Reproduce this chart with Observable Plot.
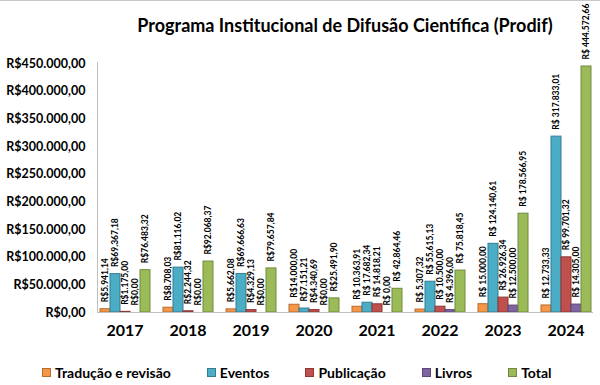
<!DOCTYPE html>
<html>
<head>
<meta charset="utf-8">
<script src="https://cdn.jsdelivr.net/npm/d3@7"></script>
<script src="https://cdn.jsdelivr.net/npm/@observablehq/plot@0.6"></script>
<style>
  html, body { margin: 0; padding: 0; background: #fff; }
  #wrap { position: relative; width: 600px; height: 385px; overflow: hidden; font-family: Lato, "Open Sans", sans-serif; color: #000; }
  #topline { position: absolute; left: 0; top: 0; width: 600px; height: 1px; background: #c8c8c8; }
  #title { position: absolute; top: 14px; left: 97px; width: 496px; text-align: center; font-weight: bold; font-size: 18px; white-space: nowrap; }
  #legend { position: absolute; top: 364px; left: 42px; display: flex; gap: 36px; font-weight: bold; font-size: 14px; white-space: nowrap; }
  #legend .item { display: flex; align-items: center; }
  #legend .sw { width: 7px; height: 7px; border: 1px solid; margin-right: 4px; }
  svg { position: absolute; left: 0; top: 0; }
</style>
</head>
<body>
<div id="wrap">
  <div id="title">Programa Institucional de Difusão Científica (Prodif)</div>
  <div id="legend"></div>
  <div id="topline"></div>
</div>
<script>
const titleText = "Programa Institucional de Difusão Científica (Prodif)";
const years = ["2017", "2018", "2019", "2020", "2021", "2022", "2023", "2024"];
const series = ["Tradução e revisão", "Eventos", "Publicação", "Livros", "Total"];
const traducao   = [5941.14, 8708.03, 5662.08, 14000.00, 10363.91, 5307.32, 15000.00, 12733.33];
const eventos    = [69367.18, 81116.02, 69666.63, 7151.21, 17682.34, 55615.13, 124140.61, 317833.01];
const publicacao = [1175.00, 2244.32, 4329.13, 4340.69, 14818.21, 10500.00, 26926.34, 99701.32];
const livros     = [0, 0, 0, 0, 0, 4396.00, 12500.00, 14305.00];
const total      = [76483.32, 92068.37, 79657.84, 25491.90, 42864.46, 75818.45, 178566.95, 444572.66];
// label style per year: later years use "R$ " with a space
const labelSpaced = [false, false, false, false, true, true, true, true];
const yTicks = [0, 50000, 100000, 150000, 200000, 250000, 300000, 350000, 400000, 450000];

const fills   = ["#F79646", "#4BACC6", "#C0504D", "#8064A2", "#9BBB59"];
const strokes = ["#B66D31", "#357D91", "#8C3836", "#5C4776", "#71893F"];

const seriesValues = [traducao, eventos, publicacao, livros, total];

const brl = d3.formatLocale({decimal: ",", thousands: ".", grouping: [3], currency: ["R$", ""]}).format("$,.2f");
const brlS = d3.formatLocale({decimal: ",", thousands: ".", grouping: [3], currency: ["R$ ", ""]}).format("$,.2f");

const data = years.flatMap((yr, i) => series.map((s, j) => ({
  year: yr, series: s, si: j, value: seriesValues[j][i],
  label: labelSpaced[i] ? brlS(seriesValues[j][i]) : brl(seriesValues[j][i])
})));

const chart = Plot.plot({
  width: 600,
  height: 385,
  marginTop: 63,
  marginBottom: 73,
  marginLeft: 97,
  marginRight: 7,
  style: {fontFamily: "Lato, 'Open Sans', sans-serif", background: "transparent", color: "#000"},
  fx: {domain: years, padding: 0.19, label: null},
  x: {domain: series, padding: 0.05, axis: null},
  y: {domain: [0, 450000], label: null},
  color: {type: "identity"},
  marks: [
    Plot.barY(data, {fx: "year", x: "series", y: "value",
      fill: d => fills[d.si], stroke: d => strokes[d.si], strokeWidth: 1}),
    Plot.text(data, {fx: "year", x: "series", y: "value", text: "label",
      rotate: -90, textAnchor: "start", lineAnchor: "middle", dy: -7,
      fontSize: 8.5, fontWeight: "bold", fill: "#000"}),
    Plot.axisY({ticks: yTicks, tickFormat: brl, tickSize: 0, tickPadding: 14,
      fontSize: 12.5, fontWeight: "bold", label: null}),
    Plot.axisFx({anchor: "bottom", tickSize: 0, tickPadding: 12,
      fontSize: 16, fontWeight: "bold", label: null})
  ]
});

// axis lines drawn from the plot's own scales
const ys = chart.scale("y");
const y0 = ys.apply(0), y1 = ys.apply(450000);
const svg = d3.select(chart);
svg.append("line").attr("x1", 97).attr("x2", 593).attr("y1", y0 + 0.5).attr("y2", y0 + 0.5)
  .attr("stroke", "#bfbfbf").attr("stroke-width", 1);
svg.append("line").attr("x1", 97.5).attr("x2", 97.5).attr("y1", y1 - 1).attr("y2", y0)
  .attr("stroke", "#bfbfbf").attr("stroke-width", 1);

const wrap = document.getElementById("wrap");
wrap.insertBefore(chart, wrap.firstChild);

const legend = d3.select("#legend");
series.forEach((s, j) => {
  const it = legend.append("div").attr("class", "item");
  it.append("div").attr("class", "sw").style("background", fills[j]).style("border-color", strokes[j]);
  it.append("span").text(s);
});
</script>
</body>
</html>
